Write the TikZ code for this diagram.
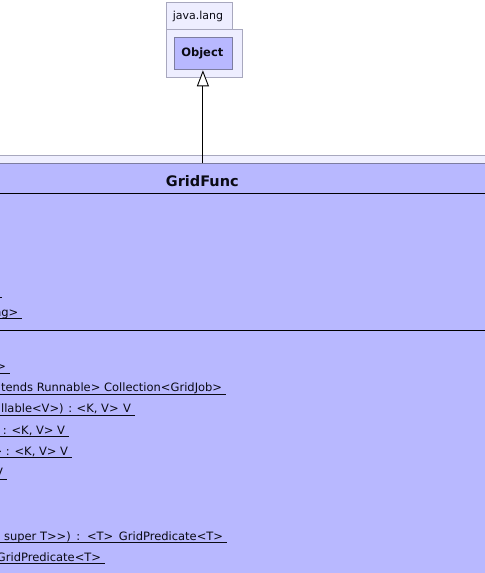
\documentclass[tikz,border=0pt]{standalone}
\usepackage{fontspec}
\setmainfont{DejaVu Sans}
\usetikzlibrary{arrows.meta}
\definecolor{clsfill}{RGB}{184,184,255}
\definecolor{pkgfill}{RGB}{238,238,255}
\definecolor{pkgline}{RGB}{168,168,190}
\definecolor{clsline}{RGB}{125,125,160}
\definecolor{txt}{RGB}{10,10,20}
\tikzset{
  pkgbox/.style={draw=pkgline, fill=pkgfill, line width=0.8bp},
  clsbox/.style={draw=clsline, fill=clsfill, line width=0.8bp},
  sepline/.style={draw=black, line width=1bp},
  rowtext/.style={font=\fontsize{11.5bp}{13bp}\selectfont, text=txt, anchor=base east, inner sep=0pt},
  uline/.style={draw=txt, line width=0.9bp},
  inherit/.style={draw=black, line width=0.9bp, -{Triangle[open, length=16bp, width=12bp, fill=white]}}
}
\begin{document}
\begin{tikzpicture}[x=1bp,y=-1bp]
\useasboundingbox (0,0) rectangle (485,573);
\clip (0,0) rectangle (485,573);
% java.lang package
\node[pkgbox, minimum width=66bp, minimum height=27bp, inner sep=0, anchor=north west] (tab) at (165.5,2) {};
\node[pkgbox, minimum width=76bp, minimum height=48bp, inner sep=0, anchor=north west] (pkg) at (165.5,29) {};
\node[font=\fontsize{11bp}{13bp}\selectfont, text=txt, anchor=base, inner sep=0] (pkgname) at (198,19.5) {java.lang};
\node[clsbox, minimum width=58bp, minimum height=32bp, inner sep=0, anchor=north west] (obj) at (173.5,37.5) {};
\node[font=\bfseries\fontsize{11.5bp}{13bp}\selectfont, text=txt, anchor=base, inner sep=0] (objname) at (202.3,56.5) {Object};
% outer package of GridFunc
\node[pkgbox, minimum width=520bp, minimum height=460bp, inner sep=0, anchor=north west] (pkg2) at (-15,155.5) {};
% GridFunc class
\node[clsbox, minimum width=520bp, minimum height=440bp, inner sep=0, anchor=north west] (cls) at (-15,163.3) {};
\node[font=\bfseries\fontsize{14.5bp}{16bp}\selectfont, text=txt, anchor=base, inner sep=0] (clsname) at (202.3,186.5) {GridFunc};
\coordinate (s1l) at (0,193.8); \coordinate (s1r) at (485,193.8);
\coordinate (s2l) at (0,330.5); \coordinate (s2r) at (485,330.5);
\draw[sepline] (s1l) -- (s1r);
\draw[sepline] (s2l) -- (s2r);
% inheritance
\draw[inherit] (cls.north -| obj.south) -- (obj.south);
% attribute rows
\draw[uline] (0,297.3) -- (2,297.3);
\node[rowtext] (a2) at (18.5,316) {ng>};
\draw[uline] (0,318.5) -- (22.2,318.5);
% operation rows
\node[rowtext] (o2) at (6.3,370.5) {>};
\draw[uline] (0,373) -- (10,373);
\node[rowtext] (o3) at (222.3,391.7) {tends Runnable> Collection<GridJob>};
\draw[uline] (0,394.2) -- (226,394.2);
\node[rowtext] (o4) at (131.3,412.9) {llable<V>)\kern0.9bp\ :\kern0.9bp\ <K, V>\kern0.9bp\ V};
\draw[uline] (0,415.4) -- (135,415.4);
\node[rowtext] (o5) at (65.3,434.1) {: <K, V> V};
\draw[uline] (0,436.6) -- (69,436.6);
\node[rowtext] (o6) at (68.3,455.3) {> : <K, V> V};
\draw[uline] (0,457.8) -- (72,457.8);
\node[rowtext] (o7) at (3.3,476.5) {V};
\draw[uline] (0,479) -- (6.7,479);
\node[rowtext] (o10) at (223.3,540.1) {super T>{}>)\, :\, <T>\, GridPredicate<T>};
\draw[uline] (0,542.6) -- (227,542.6);
\node[rowtext] (o11) at (101.3,561.3) {GridPredicate<T>};
\draw[uline] (0,563.8) -- (105,563.8);
\end{tikzpicture}
\end{document}
